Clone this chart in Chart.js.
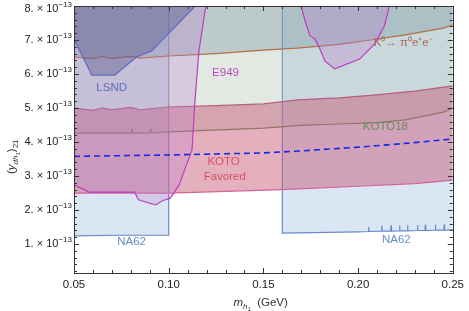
<!DOCTYPE html>
<html>
<head>
<meta charset="utf-8">
<script src="https://cdn.jsdelivr.net/npm/chart.js@4/dist/chart.umd.min.js"></script>
<style>
  html, body { margin: 0; padding: 0; background: #fff; }
  #c { display: block; }
</style>
</head>
<body>
<canvas id="c" width="469" height="311"></canvas>
<script>
// y values are in units of 1e-13
const xTicks = [0.05, 0.10, 0.15, 0.20, 0.25];
const yTicks = [1, 2, 3, 4, 5, 6, 7, 8];

// LSND exclusion boundary (excluded above)
const lsndX = [0.05, 0.0594, 0.0715, 0.083, 0.091, 0.095, 0.114];
const lsndY = [7.03, 5.97, 5.97, 6.5, 6.68, 6.91, 8.0];

// K0 -> pi0 e+ e- boundary (excluded above)
const kX = [0.05, 0.06, 0.065, 0.07, 0.08, 0.085, 0.10, 0.125, 0.15, 0.168, 0.19, 0.2066, 0.225, 0.245, 0.25];
const kY = [6.5, 6.45, 6.52, 6.45, 6.52, 6.47, 6.53, 6.6, 6.7, 6.76, 6.87, 7.0, 7.15, 7.35, 7.45];

// E949 boundaries (excluded above)
const e949aX = [0.05, 0.058, 0.082, 0.084, 0.09, 0.093, 0.097, 0.1008, 0.1055, 0.1097, 0.1123, 0.1139, 0.116, 0.1196];
const e949aY = [2.74, 2.53, 2.53, 2.3, 2.2, 2.15, 2.28, 2.35, 2.74, 3.38, 3.76, 5.24, 6.7, 8.0];
const e949bX = [0.1699, 0.172, 0.1746, 0.1772, 0.1798, 0.1825, 0.1877, 0.2008, 0.2086, 0.2139, 0.2165];
const e949bY = [8.0, 7.56, 7.12, 7.03, 6.74, 6.38, 6.15, 6.44, 6.88, 7.41, 8.0];

// KOTO18 boundary (excluded above)
const kotoX = [0.05, 0.08, 0.0805, 0.081, 0.09, 0.0905, 0.091, 0.10, 0.15, 0.17, 0.19, 0.21, 0.225, 0.245, 0.25];
const kotoY = [4.26, 4.26, 4.36, 4.26, 4.27, 4.37, 4.27, 4.30, 4.41, 4.49, 4.53, 4.57, 4.65, 4.88, 5.0];

// KOTO favored band
const favLoX = [0.05, 0.10, 0.13, 0.16, 0.20, 0.23, 0.25];
const favLoY = [2.5, 2.5, 2.55, 2.6, 2.7, 2.78, 2.88];
const favHiX = [0.05, 0.06, 0.065, 0.07, 0.08, 0.085, 0.10, 0.125, 0.15, 0.168, 0.19, 0.208, 0.23, 0.25];
const favHiY = [5.0, 4.93, 5.0, 4.95, 5.02, 4.95, 5.03, 5.07, 5.12, 5.24, 5.3, 5.38, 5.5, 5.65];

// central dashed curve
const midX = [0.05, 0.10, 0.15, 0.17, 0.20, 0.225, 0.25];
const midY = [3.58, 3.62, 3.68, 3.74, 3.85, 3.96, 4.09];

// NA62 boundaries (excluded above)
const na62aX = [0.05, 0.075, 0.10, 0.10];
const na62aY = [1.24, 1.26, 1.26, 8.0];
const na62bX = [0.16, 0.16, 0.20,
                0.2054, 0.2056, 0.2058, 0.2123, 0.2125, 0.2127, 0.2172, 0.2174, 0.2176,
                0.2217, 0.2219, 0.2221, 0.2259, 0.2261, 0.2263, 0.2312, 0.2314, 0.2316,
                0.2353, 0.2355, 0.2357, 0.2406, 0.2408, 0.2410, 0.2453, 0.2455, 0.2457, 0.25];
const na62bY = [8.0, 1.32, 1.36,
                1.37, 1.50, 1.37, 1.38, 1.54, 1.38, 1.38, 1.55, 1.38,
                1.39, 1.55, 1.39, 1.39, 1.56, 1.39, 1.40, 1.56, 1.40,
                1.40, 1.57, 1.40, 1.41, 1.57, 1.41, 1.41, 1.58, 1.41, 1.42];

const pts = (xs, ys) => xs.map((x, i) => ({ x: x, y: ys[i] }));

const labels = [
  { text: 'LSND', x: 0.0699, y: 5.59, color: 'rgb(95,105,190)' },
  { text: 'E949', x: 0.130, y: 6.03, color: 'rgb(185,75,190)' },
  { text: 'K\u2070\u2192 \u03C0\u2070e\u207Ae\u207B', x: 0.2238, y: 6.91, color: 'rgb(170,105,90)' },
  { text: 'KOTO18', x: 0.2144, y: 4.44, color: 'rgb(100,140,100)' },
  { text: 'KOTO', x: 0.129, y: 3.41, color: 'rgb(215,80,100)' },
  { text: 'Favored', x: 0.1296, y: 2.97, color: 'rgb(215,80,100)' },
  { text: 'NA62', x: 0.0804, y: 1.06, color: 'rgb(100,140,200)' },
  { text: 'NA62', x: 0.2202, y: 1.12, color: 'rgb(100,140,200)' }
];

const FONT = '"Liberation Sans", Arial, sans-serif';

function line(data, color, fillColor, fill, extra) {
  return Object.assign({
    data: data,
    borderColor: color,
    backgroundColor: fillColor,
    borderWidth: 1.2,
    pointRadius: 0,
    tension: 0,
    fill: fill
  }, extra || {});
}

const framePlugin = {
  id: 'frame',
  afterDraw(chart) {
    const { ctx, chartArea: a, scales: { x, y } } = chart;
    ctx.save();
    ctx.strokeStyle = '#333';
    ctx.lineWidth = 1;
    ctx.strokeRect(Math.round(a.left) + 0.5, Math.round(a.top) + 0.5, Math.round(a.right - a.left), Math.round(a.bottom - a.top));
    ctx.beginPath();
    for (let i = 0; i <= 20; i++) {
      const v = 0.05 + i * 0.01;
      const px = Math.round(x.getPixelForValue(v)) + 0.5;
      const len = i % 5 === 0 ? 5 : 3;
      ctx.moveTo(px, a.bottom); ctx.lineTo(px, a.bottom - len);
      ctx.moveTo(px, a.top); ctx.lineTo(px, a.top + len);
    }
    for (let i = 1; i <= 40; i++) {
      const v = i * 0.2;
      if (v < 0.15) continue;
      const py = Math.round(y.getPixelForValue(v)) + 0.5;
      const len = i % 5 === 0 ? 5 : 3;
      ctx.moveTo(a.left, py); ctx.lineTo(a.left + len, py);
      ctx.moveTo(a.right, py); ctx.lineTo(a.right - len, py);
    }
    ctx.stroke();

    // y tick labels  "n. × 10^-13"
    ctx.fillStyle = '#222';
    ctx.textBaseline = 'middle';
    yTicks.forEach(v => {
      const py = Math.max(y.getPixelForValue(v), 9);
      ctx.font = '8px ' + FONT;
      const sup = '\u221213';
      const sw = ctx.measureText(sup).width;
      const right = a.left - 2;
      ctx.textAlign = 'right';
      ctx.fillText(sup, right, py - 4);
      ctx.font = '11px ' + FONT;
      ctx.fillText(v + '. \u00D7 10', right - sw, py);
    });

    // region labels
    ctx.textAlign = 'center';
    ctx.font = '11.5px ' + FONT;
    labels.forEach(l => {
      ctx.fillStyle = l.color;
      ctx.fillText(l.text, x.getPixelForValue(l.x), y.getPixelForValue(l.y));
    });

    // x axis title: m_{h1} (GeV)
    ctx.fillStyle = '#333';
    ctx.textAlign = 'left';
    ctx.textBaseline = 'alphabetic';
    const cx = (a.left + a.right) / 2;
    const by = 306;
    let xx = cx - 30;
    ctx.font = 'italic 11.5px ' + FONT;
    ctx.fillText('m', xx, by); xx += ctx.measureText('m').width;
    ctx.font = 'italic 8px ' + FONT;
    ctx.fillText('h', xx, by + 3); xx += ctx.measureText('h').width;
    ctx.font = '6px ' + FONT;
    ctx.fillText('1', xx, by + 5); xx += ctx.measureText('1').width;
    ctx.font = '11.5px ' + FONT;
    ctx.fillText('  (GeV)', xx, by);

    // y axis title: (y_{dh1})_{21}
    ctx.save();
    ctx.translate(15, 150);
    ctx.rotate(-Math.PI / 2);
    let yy = -24;
    ctx.font = '11.5px ' + FONT;
    ctx.fillText('(', yy, 0); yy += ctx.measureText('(').width;
    ctx.font = 'italic 11.5px ' + FONT;
    ctx.fillText('y', yy, 0); yy += ctx.measureText('y').width;
    ctx.font = 'italic 8px ' + FONT;
    ctx.fillText('dh', yy, 3); yy += ctx.measureText('dh').width;
    ctx.font = '6px ' + FONT;
    ctx.fillText('1', yy, 5); yy += ctx.measureText('1').width;
    ctx.font = '11.5px ' + FONT;
    ctx.fillText(')', yy, 0); yy += ctx.measureText(')').width;
    ctx.font = '8px ' + FONT;
    ctx.fillText('21', yy, 3);
    ctx.restore();

    ctx.restore();
  }
};

new Chart(document.getElementById('c'), {
  type: 'line',
  data: {
    datasets: [
      line(pts(midX, midY), 'rgb(25,40,235)', 'transparent', false, { borderDash: [6, 4], borderWidth: 1.6 }),
      line(pts(lsndX, lsndY), 'rgb(95,105,200)', 'rgba(80,80,135,0.4)', 'end'),
      line(pts(e949bX, e949bY), 'rgb(190,60,190)', 'rgba(185,125,205,0.33)', 'end'),
      line(pts(e949aX, e949aY), 'rgb(190,60,190)', 'rgba(185,125,205,0.28)', 'end'),
      line(pts(kX, kY), 'rgb(180,110,70)', 'rgba(120,145,160,0.35)', 'end'),
      line(pts(favHiX, favHiY), 'rgb(180,95,130)', 'transparent', false),
      line(pts(favLoX, favLoY), 'rgb(210,100,150)', 'rgba(200,90,120,0.48)', 5),
      line(pts(kotoX, kotoY), 'rgb(95,140,95)', 'rgba(170,192,172,0.35)', 'end'),
      line(pts(na62aX, na62aY), 'rgb(100,140,200)', 'rgba(190,210,235,0.55)', 'end'),
      line(pts(na62bX, na62bY), 'rgb(100,140,200)', 'rgba(190,210,235,0.55)', 'end')
    ]
  },
  options: {
    responsive: false,
    animation: false,
    devicePixelRatio: 1,
    layout: { padding: { top: 6, right: 13, left: 0, bottom: 0 } },
    plugins: { legend: { display: false }, tooltip: { enabled: false } },
    scales: {
      x: {
        type: 'linear', min: 0.05, max: 0.25,
        grid: { display: false, drawTicks: false },
        border: { display: false },
        afterBuildTicks: s => { s.ticks = xTicks.map(v => ({ value: v })); },
        afterFit: s => { s.height = 38; },
        ticks: { padding: 5, color: '#222', font: { family: FONT, size: 11.5 }, callback: v => v.toFixed(2), maxRotation: 0 }
      },
      y: {
        type: 'linear', min: 0.15, max: 8,
        grid: { display: false, drawTicks: false },
        border: { display: false },
        afterBuildTicks: s => { s.ticks = yTicks.map(v => ({ value: v })); },
        afterFit: s => { s.width = 74; },
        ticks: { display: false }
      }
    }
  },
  plugins: [framePlugin]
});
</script>
</body>
</html>
